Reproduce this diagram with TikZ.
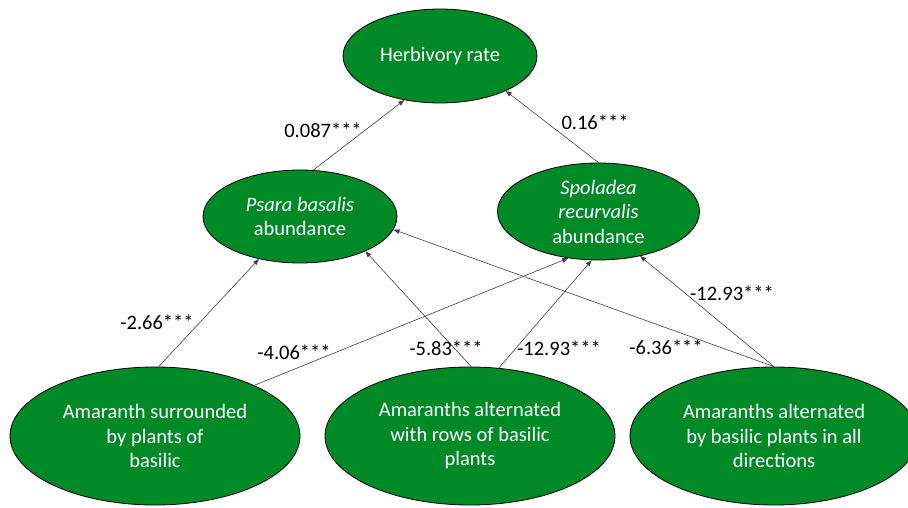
\documentclass[tikz,border=0pt]{standalone}
\usepackage{fontspec}
\setmainfont{Carlito}
\usetikzlibrary{shapes.geometric,arrows.meta}
\definecolor{nodegreen}{RGB}{0,137,39}
\begin{document}
\begin{tikzpicture}[x=1pt,y=1pt,
  varnode/.style={ellipse, draw=black, line width=0.8pt, fill=nodegreen, text=white,
    inner sep=0pt, align=center, font=\fontsize{20.5}{24.5}\selectfont},
  coef/.style={font=\fontsize{20.5}{24}\selectfont, text=black, inner sep=0pt},
  path/.style={draw=black!75, line width=0.6pt, -{Triangle[length=6pt,width=4.5pt]}}]
\useasboundingbox (0,0) rectangle (908,507);
\node[varnode, minimum width=194pt, minimum height=94pt] (H) at (440,451) {Herbivory rate};
\node[varnode, minimum width=194pt, minimum height=93pt] (P) at (300,290.5) {\itshape Psara basalis\\abundance};
\node[varnode, minimum width=202pt, minimum height=97pt] (S) at (598.5,295.5) {\itshape Spoladea\\\itshape recurvalis\\abundance};
\node[varnode, minimum width=290pt, minimum height=138pt] (L) at (155,71) {Amaranth surrounded\\by plants of\\basilic};
\node[varnode, minimum width=290pt, minimum height=138pt] (M) at (470,71) {Amaranths alternated\\with rows of basilic\\plants};
\node[varnode, minimum width=288pt, minimum height=138pt] (R) at (774,71) {Amaranths alternated\\by basilic plants in all\\directions};

\draw[path] (P.74.7) -- (H.231.8);
\draw[path] (S.90) -- (H.332.8);
\draw[path] (L.87.5) -- (P.226.6);
\draw[path] (L.27.7) -- (S.237.8);
\draw[path] (M.89.2) -- (P.332.1);
\draw[path] (M.67.9) -- (S.262.4);
\draw[path] (R.90) -- (P.352.7);
\draw[path] (R.90) -- (S.313.1);

\node[coef] (c1) at (323,377) {0.087***};
\node[coef] (c2) at (595,385) {0.16***};
\node[coef] (c3) at (157,185) {-2.66***};
\node[coef] (c4) at (294,155) {-4.06***};
\node[coef] (c5) at (446,159) {-5.83***};
\node[coef] (c6) at (559,159) {-12.93***};
\node[coef] (c7) at (666,160) {-6.36***};
\node[coef] (c8) at (732,214) {-12.93***};
\end{tikzpicture}
\end{document}
